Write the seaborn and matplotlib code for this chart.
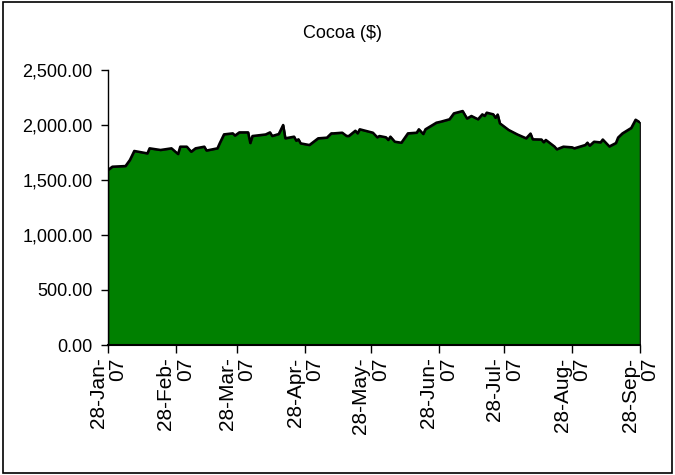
import matplotlib
matplotlib.use("Agg")
import matplotlib.pyplot as plt
from matplotlib.patches import Rectangle
from matplotlib.ticker import FuncFormatter
import seaborn as sns
import pandas as pd

title = "Cocoa ($)"
dates = [
    "2007-01-28", "2007-01-30", "2007-02-05", "2007-02-07", "2007-02-09", "2007-02-15",
    "2007-02-16", "2007-02-21", "2007-02-26", "2007-03-01", "2007-03-02", "2007-03-05",
    "2007-03-07", "2007-03-09", "2007-03-13", "2007-03-14", "2007-03-19", "2007-03-20",
    "2007-03-22", "2007-03-26", "2007-03-27", "2007-03-29", "2007-04-02", "2007-04-03",
    "2007-04-04", "2007-04-10", "2007-04-12", "2007-04-13", "2007-04-16", "2007-04-18",
    "2007-04-19", "2007-04-23", "2007-04-24", "2007-04-25", "2007-04-26", "2007-04-30",
    "2007-05-04", "2007-05-08", "2007-05-10", "2007-05-11", "2007-05-15", "2007-05-17",
    "2007-05-18", "2007-05-21", "2007-05-22", "2007-05-23", "2007-05-29", "2007-05-31",
    "2007-06-01", "2007-06-04", "2007-06-05", "2007-06-06", "2007-06-08", "2007-06-11",
    "2007-06-14", "2007-06-18", "2007-06-19", "2007-06-21", "2007-06-22", "2007-06-27",
    "2007-06-29", "2007-07-03", "2007-07-05", "2007-07-09", "2007-07-11", "2007-07-13",
    "2007-07-16", "2007-07-18", "2007-07-19", "2007-07-20", "2007-07-23", "2007-07-24",
    "2007-07-25", "2007-07-26", "2007-07-30", "2007-08-03", "2007-08-07", "2007-08-09",
    "2007-08-10", "2007-08-14", "2007-08-15", "2007-08-16", "2007-08-20", "2007-08-21",
    "2007-08-24", "2007-08-28", "2007-08-29", "2007-09-03", "2007-09-04", "2007-09-05",
    "2007-09-07", "2007-09-10", "2007-09-11", "2007-09-14", "2007-09-17", "2007-09-18",
    "2007-09-20", "2007-09-24", "2007-09-26", "2007-09-28",
]
prices = [
    1591, 1621, 1627, 1682, 1764, 1742,
    1788, 1773, 1788, 1736, 1803, 1803,
    1757, 1788, 1803, 1768, 1788, 1833,
    1915, 1924, 1904, 1933, 1933, 1836,
    1900, 1914, 1933, 1900, 1918, 2000,
    1879, 1894, 1857, 1870, 1833, 1818,
    1879, 1885, 1924, 1924, 1930, 1900,
    1900, 1948, 1924, 1961, 1930, 1888,
    1900, 1888, 1864, 1894, 1848, 1839,
    1924, 1930, 1961, 1918, 1961, 2021,
    2030, 2052, 2106, 2127, 2059, 2082,
    2052, 2097, 2082, 2112, 2097, 2065,
    2095, 2015, 1955, 1914, 1879, 1922,
    1870, 1868, 1843, 1864, 1803, 1779,
    1803, 1797, 1788, 1818, 1839, 1812,
    1848, 1842, 1868, 1805, 1836, 1886,
    1924, 1973, 2048, 2023,
]
tick_dates = ["2007-01-28", "2007-02-28", "2007-03-28", "2007-04-28", "2007-05-28",
              "2007-06-28", "2007-07-28", "2007-08-28", "2007-09-28"]
tick_labels = ["28-Jan-\n07", "28-Feb-\n07", "28-Mar-\n07", "28-Apr-\n07", "28-May-\n07",
               "28-Jun-\n07", "28-Jul-\n07", "28-Aug-\n07", "28-Sep-\n07"]
y_ticks = [0, 500, 1000, 1500, 2000, 2500]

sns.set_theme(style="white")
plt.rcParams["font.family"] = ["Liberation Sans", "DejaVu Sans"]

df = pd.DataFrame({"date": pd.to_datetime(dates), "price": prices})

fig = plt.figure(figsize=(6.75, 4.75), dpi=100)
ax = fig.add_axes([108 / 675, 1 - 345 / 475, (640 - 108) / 675, (345 - 70) / 475])

ax.fill_between(df["date"], df["price"], 0, color="#008000", edgecolor="#1a1a1a", linewidth=1.2, zorder=1)
sns.lineplot(data=df, x="date", y="price", ax=ax, color="black", linewidth=1.8, zorder=2)

ax.set_xlim(pd.Timestamp(tick_dates[0]), pd.Timestamp(tick_dates[-1]))
ax.set_ylim(y_ticks[0], y_ticks[-1])
ax.set_yticks(y_ticks)
ax.yaxis.set_major_formatter(FuncFormatter(lambda v, p: f"{v:,.2f}"))
ax.set_xticks(pd.to_datetime(tick_dates))
ax.set_xticklabels(tick_labels, rotation=90, ha="center", va="top", multialignment="right",
                   fontsize=15, linespacing=1.05)
ax.tick_params(axis="y", labelsize=13, length=5, width=1, color="black", direction="out", pad=6, left=True)
ax.tick_params(axis="x", length=6, width=1, color="black", direction="out", pad=3, bottom=True)
for lbl in ax.get_yticklabels() + ax.get_xticklabels():
    lbl.set_color("black")

ax.set_xlabel("")
ax.set_ylabel("")
ax.grid(False)
for side in ["top", "right"]:
    ax.spines[side].set_visible(False)
for side in ["left", "bottom"]:
    ax.spines[side].set_color("black")
    ax.spines[side].set_linewidth(1)
ax.spines["bottom"].set_linewidth(1.5)

fig.text(342 / 675, 1 - 33 / 475, title, ha="center", va="center", fontsize=13, color="black")
fig.patches.append(Rectangle((0.004, 0.004), 0.992, 0.992, transform=fig.transFigure,
                             fill=False, edgecolor="black", linewidth=1.2))

fig.savefig("out.png", dpi=100)
